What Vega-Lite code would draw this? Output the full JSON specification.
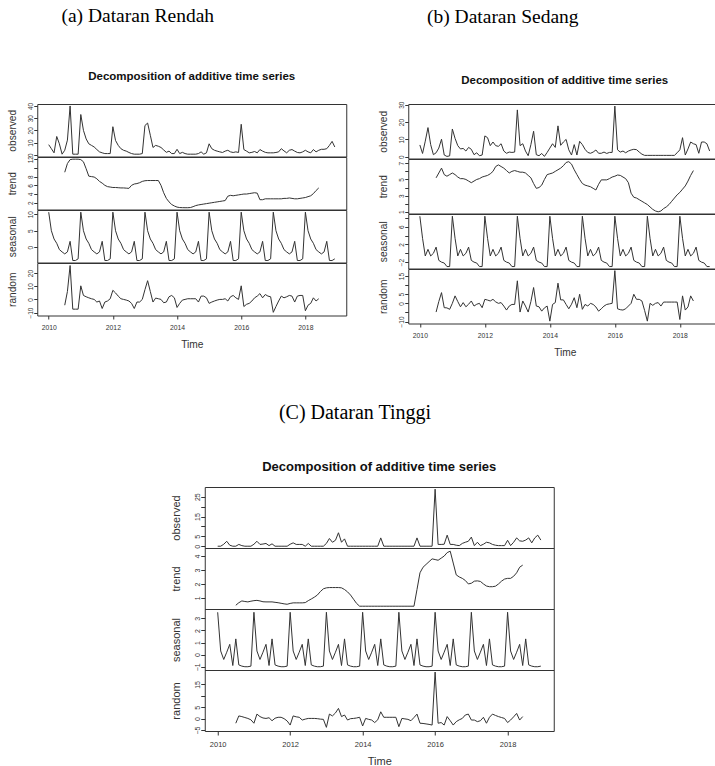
{
"$schema":"https://vega.github.io/schema/vega-lite/v6.json",
"padding":{"left":6,"top":6,"right":5,"bottom":0},
"datasets":{"d":[
{"t":2010,"ao":8.3,"as":10.6,"bo":6.8,"bs":8.4,"co":0,"cs":3.5},
{"t":2010.083,"ao":5,"as":5,"bo":1.9,"bs":3.4,"co":0,"cs":0.3},
{"t":2010.167,"ao":1.6,"as":2.5,"bo":9,"bs":-0.6,"co":1,"cs":-0.4},
{"t":2010.25,"ao":15,"as":1.2,"bo":16.8,"bs":0.9,"co":2.5,"cs":0.2},
{"t":2010.333,"ao":9,"as":-0.7,"bo":7,"bs":-0.6,"co":0.5,"cs":0.85},
{"t":2010.417,"ao":0.5,"as":-1.4,"bo":1.2,"bs":0,"co":0,"cs":-0.9},
{"t":2010.5,"ao":3.7,"as":-2,"bo":2.3,"bs":1.4,"co":0,"cs":1.3,"at":9,"ar":-4.4,"bt":5.2,"br":-4.8,"ct":0.47,"cr":-2},
{"t":2010.583,"ao":12,"as":-1.4,"bo":5,"bs":-1.6,"co":0.9,"cs":-0.85,"at":11,"ar":6,"bt":5.8,"br":1,"ct":0.65,"cr":1.2},
{"t":2010.667,"ao":40,"as":1.8,"bo":10.1,"bs":-2,"co":0.3,"cs":-0.95,"at":11.9,"ar":25.7,"bt":6.4,"br":5.9,"ct":0.78,"cr":0.9},
{"t":2010.75,"ao":0.5,"as":-4,"bo":1,"bs":-2.2,"co":0,"cs":-1,"at":12,"ar":-7.4,"bt":5.6,"br":-2.4,"ct":0.74,"cr":0.5},
{"t":2010.833,"ao":0.5,"as":-4,"bo":0.2,"bs":-3,"co":0,"cs":-1,"at":12,"ar":-7.4,"bt":5.4,"br":-2.5,"ct":0.71,"cr":0.1},
{"t":2010.917,"ao":0.5,"as":-3.5,"bo":0.5,"bs":-3,"co":0,"cs":-0.95,"at":12,"ar":-7.4,"bt":5.6,"br":-3.3,"ct":0.76,"cr":-0.5},
{"t":2011,"ao":33,"as":10.6,"bo":16,"bs":8.4,"co":1,"cs":3.5,"at":11.9,"ar":10.3,"bt":5.8,"br":0,"ct":0.8,"cr":-2},
{"t":2011.083,"ao":20,"as":5,"bo":10.6,"bs":3.4,"co":2.5,"cs":0.3,"at":11.4,"ar":3,"bt":5.6,"br":4.1,"ct":0.82,"cr":2},
{"t":2011.167,"ao":13,"as":2.5,"bo":6.4,"bs":-0.6,"co":0.9,"cs":-0.4,"at":9.8,"ar":2,"bt":5.3,"br":1,"ct":0.78,"cr":0.9},
{"t":2011.25,"ao":9,"as":1.2,"bo":4.5,"bs":0.9,"co":1.1,"cs":0.2,"at":8.1,"ar":1.2,"bt":5.1,"br":-1.9,"ct":0.72,"cr":0.3},
{"t":2011.333,"ao":7.7,"as":-0.7,"bo":4.8,"bs":-0.6,"co":1.4,"cs":0.85,"at":8,"ar":0.5,"bt":5.1,"br":0.4,"ct":0.71,"cr":0.1},
{"t":2011.417,"ao":6.4,"as":-1.4,"bo":3.3,"bs":0,"co":0.3,"cs":-0.9,"at":7.9,"ar":0,"bt":5,"br":-1.9,"ct":0.71,"cr":0.4},
{"t":2011.5,"ao":4.3,"as":-2,"bo":5.4,"bs":1.4,"co":1.2,"cs":1.3,"at":7.5,"ar":-2,"bt":4.8,"br":-0.5,"ct":0.71,"cr":-0.9},
{"t":2011.583,"ao":2.4,"as":-1.4,"bo":4.3,"bs":-1.6,"co":0,"cs":-0.85,"at":6.9,"ar":-1.2,"bt":4.6,"br":1.3,"ct":0.68,"cr":0.2},
{"t":2011.667,"ao":1.6,"as":1.8,"bo":1.2,"bs":-2,"co":0,"cs":-0.95,"at":6.5,"ar":-6.9,"bt":4.8,"br":-1.5,"ct":0.65,"cr":0.6},
{"t":2011.75,"ao":1,"as":-4,"bo":2.3,"bs":-2.2,"co":0,"cs":-1,"at":6,"ar":-2,"bt":5,"br":-0.5,"ct":0.61,"cr":0.6},
{"t":2011.833,"ao":1,"as":-4,"bo":0.6,"bs":-3,"co":0,"cs":-1,"at":5.7,"ar":-1.2,"bt":5.1,"br":0,"ct":0.57,"cr":0},
{"t":2011.917,"ao":1,"as":-3.5,"bo":1,"bs":-3,"co":0,"cs":-0.95,"at":5.6,"ar":0.5,"bt":5.3,"br":-2.4,"ct":0.54,"cr":-1},
{"t":2012,"ao":23,"as":10.6,"bo":12,"bs":8.4,"co":1,"cs":3.5,"at":5.5,"ar":6.9,"bt":5.4,"br":2.2,"ct":0.6,"cr":-2.8},
{"t":2012.083,"ao":11.7,"as":5,"bo":11,"bs":3.4,"co":1.7,"cs":0.3,"at":5.5,"ar":4.9,"bt":5.5,"br":1.8,"ct":0.64,"cr":1.2},
{"t":2012.167,"ao":7.7,"as":2.5,"bo":6.4,"bs":-0.6,"co":0.9,"cs":-0.4,"at":5.45,"ar":2.5,"bt":5.7,"br":1.3,"ct":0.64,"cr":0.8},
{"t":2012.25,"ao":5,"as":1.2,"bo":8.5,"bs":0.9,"co":0.9,"cs":0.2,"at":5.4,"ar":0.5,"bt":6,"br":2.2,"ct":0.64,"cr":0.6},
{"t":2012.333,"ao":3.7,"as":-0.7,"bo":6.4,"bs":-0.6,"co":0.9,"cs":0.85,"at":5.4,"ar":0,"bt":6.6,"br":0.8,"ct":0.64,"cr":-0.6},
{"t":2012.417,"ao":3,"as":-1.4,"bo":6,"bs":0,"co":0,"cs":-0.9,"at":5.35,"ar":-0.5,"bt":6.8,"br":0,"ct":0.66,"cr":-0.2},
{"t":2012.5,"ao":1.9,"as":-2,"bo":7.5,"bs":1.4,"co":1.4,"cs":1.3,"at":5.3,"ar":-1.2,"bt":6.6,"br":0.4,"ct":0.8,"cr":0.1},
{"t":2012.583,"ao":1,"as":-1.4,"bo":3.3,"bs":-1.6,"co":0,"cs":-0.85,"at":6,"ar":-3,"bt":6.4,"br":-1.5,"ct":0.92,"cr":0.1},
{"t":2012.667,"ao":0.5,"as":1.8,"bo":2,"bs":-2,"co":0,"cs":-0.95,"at":6.3,"ar":-6.9,"bt":6.1,"br":-3.7,"ct":1.05,"cr":0.1},
{"t":2012.75,"ao":0.5,"as":-4,"bo":2.7,"bs":-2.2,"co":0,"cs":-1,"at":6.4,"ar":-2,"bt":5.8,"br":-1.5,"ct":1.2,"cr":0},
{"t":2012.833,"ao":0.5,"as":-4,"bo":2.5,"bs":-3,"co":0,"cs":-1,"at":6.6,"ar":-2,"bt":6,"br":-0.6,"ct":1.45,"cr":-0.2},
{"t":2012.917,"ao":1,"as":-3.5,"bo":2.7,"bs":-3,"co":0,"cs":-0.95,"at":6.9,"ar":0,"bt":6.1,"br":-0.6,"ct":1.65,"cr":-0.3},
{"t":2013,"ao":24,"as":10.6,"bo":27,"bs":8.4,"co":1.4,"cs":3.5,"at":7.05,"ar":7.4,"bt":6,"br":12.4,"ct":1.72,"cr":-3.8},
{"t":2013.083,"ao":26,"as":5,"bo":6.4,"bs":3.4,"co":3.9,"cs":0.3,"at":7.1,"ar":14.2,"bt":5.9,"br":-4.8,"ct":1.74,"cr":2},
{"t":2013.167,"ao":16,"as":2.5,"bo":7.5,"bs":-0.6,"co":2,"cs":-0.4,"at":7.1,"ar":6,"bt":5.9,"br":1.3,"ct":1.74,"cr":1.2},
{"t":2013.25,"ao":6,"as":1.2,"bo":3.3,"bs":0.9,"co":3,"cs":0.2,"at":7.1,"ar":-2,"bt":5.8,"br":-1.5,"ct":1.74,"cr":2.5},
{"t":2013.333,"ao":7.7,"as":-0.7,"bo":0.6,"bs":-0.6,"co":6.8,"cs":0.85,"at":7.1,"ar":1,"bt":5.5,"br":-4.8,"ct":1.74,"cr":4.5},
{"t":2013.417,"ao":7,"as":-1.4,"bo":7,"bs":0,"co":2,"cs":-0.9,"at":7.1,"ar":0.5,"bt":5.2,"br":1,"ct":1.72,"cr":0.9},
{"t":2013.5,"ao":6,"as":-2,"bo":14.7,"bs":1.4,"co":3.7,"cs":1.3,"at":6,"ar":0,"bt":4.5,"br":8.7,"ct":1.6,"cr":1.6},
{"t":2013.583,"ao":4,"as":-1.4,"bo":1.2,"bs":-1.6,"co":0,"cs":-0.85,"at":4.3,"ar":-2.5,"bt":3.9,"br":-1.5,"ct":1.43,"cr":-0.6},
{"t":2013.667,"ao":2,"as":1.8,"bo":0.6,"bs":-2,"co":0,"cs":-0.95,"at":3,"ar":-2,"bt":4,"br":-1.9,"ct":1.2,"cr":0},
{"t":2013.75,"ao":3,"as":-4,"bo":1.9,"bs":-2.2,"co":0,"cs":-1,"at":2.2,"ar":2,"bt":4.3,"br":-4.3,"ct":0.9,"cr":0.1},
{"t":2013.833,"ao":1,"as":-4,"bo":0.2,"bs":-3,"co":0,"cs":-1,"at":1.6,"ar":3,"bt":5,"br":-2.5,"ct":0.6,"cr":0.3},
{"t":2013.917,"ao":1,"as":-3.5,"bo":2.5,"bs":-3,"co":0,"cs":-0.95,"at":1.25,"ar":1.2,"bt":5.6,"br":-1.5,"ct":0.4,"cr":0.6},
{"t":2014,"ao":4.5,"as":10.6,"bo":5,"bs":8.4,"co":0,"cs":3.5,"at":1,"ar":-6.1,"bt":5.7,"br":-9.8,"ct":0.4,"cr":-3.2},
{"t":2014.083,"ao":1,"as":5,"bo":7.5,"bs":3.4,"co":0,"cs":0.3,"at":0.9,"ar":-3,"bt":5.8,"br":-0.6,"ct":0.4,"cr":0.1},
{"t":2014.167,"ao":2,"as":2.5,"bo":5.4,"bs":-0.6,"co":0,"cs":-0.4,"at":0.87,"ar":-0.5,"bt":6,"br":0.4,"ct":0.4,"cr":-0.3},
{"t":2014.25,"ao":1,"as":1.2,"bo":17.8,"bs":0.9,"co":0,"cs":0.2,"at":0.86,"ar":0,"bt":6.2,"br":11.1,"ct":0.4,"cr":-0.6},
{"t":2014.333,"ao":0.5,"as":-0.7,"bo":6.6,"bs":-0.6,"co":0,"cs":0.85,"at":0.86,"ar":0.5,"bt":6.4,"br":1.9,"ct":0.4,"cr":-1.7},
{"t":2014.417,"ao":0.5,"as":-1.4,"bo":8.5,"bs":0,"co":0,"cs":-0.9,"at":0.9,"ar":0.5,"bt":6.7,"br":1.9,"ct":0.4,"cr":-0.5},
{"t":2014.5,"ao":0.5,"as":-2,"bo":10,"bs":1.4,"co":4.2,"cs":1.3,"at":1.1,"ar":0.5,"bt":7.1,"br":-0.6,"ct":0.4,"cr":3},
{"t":2014.583,"ao":0.5,"as":-1.4,"bo":4,"bs":-1.6,"co":0,"cs":-0.85,"at":1.35,"ar":0.5,"bt":7.2,"br":-3,"ct":0.4,"cr":0.6},
{"t":2014.667,"ao":1,"as":1.8,"bo":1,"bs":-2,"co":0,"cs":-0.95,"at":1.5,"ar":-2,"bt":6.9,"br":-0.5,"ct":0.4,"cr":0.6},
{"t":2014.75,"ao":2.4,"as":-4,"bo":7,"bs":-2.2,"co":0,"cs":-1,"at":1.6,"ar":2.5,"bt":6.2,"br":3.1,"ct":0.4,"cr":0.6},
{"t":2014.833,"ao":0.5,"as":-4,"bo":1,"bs":-3,"co":0,"cs":-1,"at":1.7,"ar":2.5,"bt":5.6,"br":-2.4,"ct":0.4,"cr":0.6},
{"t":2014.917,"ao":1.6,"as":-3.5,"bo":8.9,"bs":-3,"co":0,"cs":-0.95,"at":1.8,"ar":1.2,"bt":5,"br":5,"ct":0.4,"cr":0.6},
{"t":2015,"ao":9,"as":10.6,"bo":7,"bs":8.4,"co":0,"cs":3.5,"at":1.9,"ar":-3,"bt":4.5,"br":-3.3,"ct":0.4,"cr":-3.5},
{"t":2015.083,"ao":5,"as":5,"bo":4.3,"bs":3.4,"co":0,"cs":0.3,"at":2,"ar":-2,"bt":4.3,"br":-0.6,"ct":0.4,"cr":0.1},
{"t":2015.167,"ao":3.7,"as":2.5,"bo":2.5,"bs":-0.6,"co":0,"cs":-0.4,"at":2.1,"ar":-1.2,"bt":4.2,"br":-1.5,"ct":0.4,"cr":-0.1},
{"t":2015.25,"ao":3,"as":1.2,"bo":2,"bs":0.9,"co":0,"cs":0.2,"at":2.2,"ar":-0.5,"bt":4.1,"br":0,"ct":0.4,"cr":-0.3},
{"t":2015.333,"ao":2.4,"as":-0.7,"bo":2.7,"bs":-0.6,"co":0,"cs":0.85,"at":2.3,"ar":0,"bt":3.9,"br":-0.6,"ct":0.4,"cr":-0.9},
{"t":2015.417,"ao":1.9,"as":-1.4,"bo":3.9,"bs":0,"co":0,"cs":-0.9,"at":2.4,"ar":0,"bt":3.7,"br":-2,"ct":0.4,"cr":0.5},
{"t":2015.5,"ao":3,"as":-2,"bo":2,"bs":1.4,"co":4.2,"cs":1.3,"at":2.5,"ar":0.5,"bt":4.4,"br":-4.3,"ct":1.6,"cr":2},
{"t":2015.583,"ao":3.7,"as":-1.4,"bo":2,"bs":-1.6,"co":0,"cs":-0.85,"at":3.5,"ar":-1.2,"bt":4.95,"br":-3,"ct":2.8,"cr":-2},
{"t":2015.667,"ao":2.4,"as":1.8,"bo":2.7,"bs":-2,"co":0,"cs":-0.95,"at":3.7,"ar":2,"bt":4.95,"br":-1.5,"ct":3.2,"cr":-2.1},
{"t":2015.75,"ao":1.9,"as":-4,"bo":1.9,"bs":-2.2,"co":0,"cs":-1,"at":3.6,"ar":3,"bt":4.95,"br":-0.6,"ct":3.4,"cr":-2.3},
{"t":2015.833,"ao":2.4,"as":-4,"bo":2.5,"bs":-3,"co":0,"cs":-1,"at":3.7,"ar":1.2,"bt":5.1,"br":-0.3,"ct":3.6,"cr":-2.5},
{"t":2015.917,"ao":1.9,"as":-3.5,"bo":2.5,"bs":-3,"co":0,"cs":-0.95,"at":3.8,"ar":0,"bt":5.3,"br":0,"ct":3.8,"cr":-2.8},
{"t":2016,"ao":25,"as":10.6,"bo":29.2,"bs":8.4,"co":28.8,"cs":3.5,"at":3.9,"ar":10.3,"bt":5.4,"br":18,"ct":3.75,"cr":20.4},
{"t":2016.083,"ao":4.3,"as":5,"bo":4,"bs":3.4,"co":0.9,"cs":0.3,"at":4,"ar":-5.4,"bt":5.55,"br":-3,"ct":3.7,"cr":-2},
{"t":2016.167,"ao":3,"as":2.5,"bo":2.7,"bs":-0.6,"co":0.9,"cs":-0.4,"at":4,"ar":-3.7,"bt":5.5,"br":-3.5,"ct":3.85,"cr":-1.7},
{"t":2016.25,"ao":1.6,"as":1.2,"bo":3.3,"bs":0.9,"co":1,"cs":0.2,"at":4.1,"ar":-3,"bt":5.3,"br":-3.7,"ct":4,"cr":-2.8},
{"t":2016.333,"ao":2,"as":-0.7,"bo":2.3,"bs":-0.6,"co":5.6,"cs":0.85,"at":4.2,"ar":-1.2,"bt":5.1,"br":-3,"ct":4.25,"cr":0.9},
{"t":2016.417,"ao":2.7,"as":-1.4,"bo":3.3,"bs":0,"co":0.9,"cs":-0.9,"at":4.3,"ar":1.2,"bt":4.6,"br":-1.5,"ct":4.35,"cr":-0.9},
{"t":2016.5,"ao":1.6,"as":-2,"bo":3.9,"bs":1.4,"co":0.9,"cs":1.3,"at":4.2,"ar":2.5,"bt":3.3,"br":0,"ct":3.5,"cr":-2.8},
{"t":2016.583,"ao":4.3,"as":-1.4,"bo":4.3,"bs":-1.6,"co":0.5,"cs":-0.85,"at":2.7,"ar":4.4,"bt":2.8,"br":5,"ct":2.65,"cr":-1.3},
{"t":2016.667,"ao":3,"as":1.8,"bo":4.1,"bs":-2,"co":0.3,"cs":-0.95,"at":2.7,"ar":1.2,"bt":2.7,"br":2.2,"ct":2.5,"cr":-0.5},
{"t":2016.75,"ao":2,"as":-4,"bo":2.7,"bs":-2.2,"co":1.4,"cs":-1,"at":2.9,"ar":3.7,"bt":2.5,"br":2.2,"ct":2.4,"cr":0.1},
{"t":2016.833,"ao":1.6,"as":-4,"bo":1.5,"bs":-3,"co":2,"cs":-1,"at":2.9,"ar":2.5,"bt":2.3,"br":1.3,"ct":2.25,"cr":1.6},
{"t":2016.917,"ao":1.6,"as":-3.5,"bo":0.8,"bs":-3,"co":2.5,"cs":-0.95,"at":2.9,"ar":2,"bt":2.1,"br":-4,"ct":2,"cr":2},
{"t":2017,"ao":1.6,"as":10.6,"bo":0.8,"bs":8.4,"co":4.6,"cs":3.5,"at":2.9,"ar":-9.8,"bt":1.9,"br":-9.8,"ct":2.05,"cr":-0.6},
{"t":2017.083,"ao":1.9,"as":5,"bo":0.8,"bs":3.4,"co":0.3,"cs":0.3,"at":2.9,"ar":-5.4,"bt":1.6,"br":0,"ct":2.2,"cr":-0.6},
{"t":2017.167,"ao":2.4,"as":2.5,"bo":0.8,"bs":-0.6,"co":2,"cs":-0.4,"at":2.9,"ar":-1.2,"bt":1.3,"br":-1.1,"ct":2.22,"cr":-1.3},
{"t":2017.25,"ao":5,"as":1.2,"bo":0.8,"bs":0.9,"co":0.3,"cs":0.2,"at":2.9,"ar":2.5,"bt":1.1,"br":0,"ct":2.18,"cr":-0.9},
{"t":2017.333,"ao":3.2,"as":-0.7,"bo":0.8,"bs":-0.6,"co":1,"cs":0.85,"at":3,"ar":1.2,"bt":1,"br":0.4,"ct":2,"cr":0.6},
{"t":2017.417,"ao":1.6,"as":-1.4,"bo":0.8,"bs":0,"co":2,"cs":-0.9,"at":3,"ar":2,"bt":1.1,"br":-1.5,"ct":1.85,"cr":-2},
{"t":2017.5,"ao":3.7,"as":-2,"bo":0.8,"bs":1.4,"co":1.7,"cs":1.3,"at":3.1,"ar":3,"bt":1.4,"br":0.7,"ct":1.8,"cr":0.6},
{"t":2017.583,"ao":4.3,"as":-1.4,"bo":0.8,"bs":-1.6,"co":0.9,"cs":-0.85,"at":3,"ar":2.5,"bt":1.6,"br":0.7,"ct":1.8,"cr":2},
{"t":2017.667,"ao":3,"as":1.8,"bo":0.8,"bs":-2,"co":0.5,"cs":-0.95,"at":2.9,"ar":-2,"bt":1.9,"br":0.7,"ct":1.84,"cr":1.4},
{"t":2017.75,"ao":1.9,"as":-4,"bo":0.8,"bs":-2.2,"co":0.3,"cs":-1,"at":2.9,"ar":2.5,"bt":2.3,"br":0.7,"ct":2,"cr":0.9},
{"t":2017.833,"ao":1.6,"as":-4,"bo":0.8,"bs":-3,"co":0.3,"cs":-1,"at":3,"ar":3,"bt":2.7,"br":0.7,"ct":2.2,"cr":0.5},
{"t":2017.917,"ao":2.4,"as":-3.5,"bo":2.3,"bs":-3,"co":0.3,"cs":-0.95,"at":3.1,"ar":3,"bt":3.1,"br":0.7,"ct":2.35,"cr":0.1},
{"t":2018,"ao":3.7,"as":10.6,"bo":4,"bs":8.4,"co":3,"cs":3.5,"at":3.2,"ar":-8.6,"bt":3.4,"br":-8.9,"ct":2.4,"cr":-1.7},
{"t":2018.083,"ao":2.4,"as":5,"bo":11,"bs":3.4,"co":0.3,"cs":0.3,"at":3.4,"ar":-4.4,"bt":3.8,"br":4.1,"ct":2.4,"cr":-0.6},
{"t":2018.167,"ao":1.6,"as":2.5,"bo":1,"bs":-0.6,"co":2,"cs":-0.4,"at":3.6,"ar":-3,"bt":4.2,"br":-3.7,"ct":2.55,"cr":0.8},
{"t":2018.25,"ao":4.3,"as":1.2,"bo":4.5,"bs":0.9,"co":4.2,"cs":0.2,"at":4.1,"ar":1.2,"bt":4.8,"br":-2,"ct":2.8,"cr":2.3},
{"t":2018.333,"ao":2.4,"as":-0.7,"bo":8.5,"bs":-0.6,"co":2.7,"cs":0.85,"at":4.8,"ar":-1.2,"bt":5.5,"br":4.1,"ct":3.2,"cr":-0.6},
{"t":2018.417,"ao":3.7,"as":-1.4,"bo":7.5,"bs":0,"co":2.5,"cs":-0.9,"at":5.4,"ar":0.5,"bt":6.1,"br":1.3,"ct":3.35,"cr":0.9},
{"t":2018.5,"ao":4.5,"as":-2,"bo":7,"bs":1.4,"co":3.1,"cs":1.3},
{"t":2018.583,"ao":4.5,"as":-1.4,"bo":2,"bs":-1.6,"co":4.2,"cs":-0.85},
{"t":2018.667,"ao":5,"as":1.8,"bo":8.5,"bs":-2,"co":1.7,"cs":-0.95},
{"t":2018.75,"ao":7.7,"as":-4,"bo":8.5,"bs":-2.2,"co":4.2,"cs":-1},
{"t":2018.833,"ao":11,"as":-4,"bo":7.5,"bs":-3,"co":5.6,"cs":-1},
{"t":2018.917,"ao":6.4,"as":-3.5,"bo":3.3,"bs":-3,"co":3.1,"cs":-0.95}
]},
"data":{"name":"d"},
"spacing":44,
"center":true,
"resolve":{"scale":{"x":"independent","y":"independent"}},
"vconcat":[
{"spacing":30,"resolve":{"scale":{"x":"independent","y":"independent"}},
 "hconcat":[
 {"title":{"text":"(a) Dataran Rendah","anchor":"middle","frame":"bounds","font":"Liberation Serif","fontSize":19.5,"fontWeight":"normal","color":"#000","dx":-39,"offset":44},
  "spacing":0,"bounds":"flush","resolve":{"scale":{"x":"independent","y":"independent"}},
  "vconcat":[
  {"width":309,"height":52.5,"title":{"text":"Decomposition of additive time series","anchor":"middle","frame":"group","font":"Liberation Sans","fontSize":11.5,"fontWeight":"bold","color":"#111","offset":19.5},
   "mark":{"type":"line"},
   "encoding":{"x":{"field":"t","type":"quantitative","scale":{"domain":[2009.643,2019.274],"nice":false,"zero":false},"axis":null},
    "y":{"field":"ao","type":"quantitative","scale":{"domain":[-1.4,41.6],"nice":false,"zero":false},"axis":{"title":"observed","values":[0,10,20,30,40]}}}},
  {"width":309,"height":52.5,"mark":{"type":"line"},
   "encoding":{"x":{"field":"t","type":"quantitative","scale":{"domain":[2009.643,2019.274],"nice":false,"zero":false},"axis":null},
    "y":{"field":"at","type":"quantitative","scale":{"domain":[0.45,12.5],"nice":false,"zero":false},"axis":{"title":"trend","values":[2,4,6,8,10,12],"labelExpr":"datum.value == 10 ? '' : datum.label"}}}},
  {"width":309,"height":52.5,"mark":{"type":"line"},
   "encoding":{"x":{"field":"t","type":"quantitative","scale":{"domain":[2009.643,2019.274],"nice":false,"zero":false},"axis":null},
    "y":{"field":"as","type":"quantitative","scale":{"domain":[-4.6,11.26],"nice":false,"zero":false},"axis":{"title":"seasonal","values":[0,5,10]}}}},
  {"width":309,"height":52.5,"mark":{"type":"line"},
   "encoding":{"x":{"field":"t","type":"quantitative","scale":{"domain":[2009.643,2019.274],"nice":false,"zero":false},"axis":{"title":"Time","values":[2010,2012,2014,2016,2018],"format":"d"}},
    "y":{"field":"ar","type":"quantitative","scale":{"domain":[-12.2,27.6],"nice":false,"zero":false},"axis":{"title":"random","values":[-10,0,10,20]}}}}
  ]},
 {"title":{"text":"(b) Dataran Sedang","anchor":"middle","frame":"bounds","font":"Liberation Serif","fontSize":19.5,"fontWeight":"normal","color":"#000","dx":-47,"offset":47},
  "spacing":0,"bounds":"flush","resolve":{"scale":{"x":"independent","y":"independent"}},
  "vconcat":[
  {"width":313,"height":54.5,"title":{"text":"Decomposition of additive time series","anchor":"middle","frame":"group","font":"Liberation Sans","fontSize":11.5,"fontWeight":"bold","color":"#111","offset":15},
   "mark":{"type":"line"},
   "encoding":{"x":{"field":"t","type":"quantitative","scale":{"domain":[2009.643,2019.274],"nice":false,"zero":false},"axis":null},
    "y":{"field":"bo","type":"quantitative","scale":{"domain":[-1.0,30.4],"nice":false,"zero":false},"axis":{"title":"observed","values":[0,10,20,30]}}}},
  {"width":313,"height":54.5,"mark":{"type":"line"},
   "encoding":{"x":{"field":"t","type":"quantitative","scale":{"domain":[2009.643,2019.274],"nice":false,"zero":false},"axis":null},
    "y":{"field":"bt","type":"quantitative","scale":{"domain":[0.79,7.53],"nice":false,"zero":false},"axis":{"title":"trend","values":[1,2,3,4,5,6,7],"labelExpr":"datum.value % 2 == 0 ? '' : datum.label"}}}},
  {"width":313,"height":54.5,"mark":{"type":"line"},
   "encoding":{"x":{"field":"t","type":"quantitative","scale":{"domain":[2009.643,2019.274],"nice":false,"zero":false},"axis":null},
    "y":{"field":"bs","type":"quantitative","scale":{"domain":[-3.44,8.9],"nice":false,"zero":false},"axis":{"title":"seasonal","values":[-2,0,2,4,6,8],"labelExpr":"(datum.value + 2) % 4 == 0 ? datum.label : ''"}}}},
  {"width":313,"height":54.5,"mark":{"type":"line"},
   "encoding":{"x":{"field":"t","type":"quantitative","scale":{"domain":[2009.643,2019.274],"nice":false,"zero":false},"axis":{"title":"Time","values":[2010,2012,2014,2016,2018],"format":"d"}},
    "y":{"field":"br","type":"quantitative","scale":{"domain":[-11.1,18.9],"nice":false,"zero":false},"axis":{"title":"random","values":[-10,-5,0,5,10,15],"labelExpr":"datum.value == 10 || datum.value == -5 ? '' : datum.label"}}}}
  ]}
 ]},
{"title":{"text":"(C) Dataran Tinggi","anchor":"middle","frame":"bounds","font":"Liberation Serif","fontSize":20,"fontWeight":"normal","color":"#000","dx":-7,"offset":37},
 "spacing":0,"bounds":"flush","resolve":{"scale":{"x":"independent","y":"independent"}},
 "vconcat":[
 {"width":349,"height":61,"title":{"text":"Decomposition of additive time series","anchor":"middle","frame":"group","font":"Liberation Sans","fontSize":13,"fontWeight":"bold","color":"#111","offset":13.5},
  "mark":{"type":"line"},
  "encoding":{"x":{"field":"t","type":"quantitative","scale":{"domain":[2009.643,2019.274],"nice":false,"zero":false},"axis":null},
   "y":{"field":"co","type":"quantitative","scale":{"domain":[-0.9,29.9],"nice":false,"zero":false},"axis":{"title":"observed","values":[0,5,10,15,20,25],"labelExpr":"datum.value == 10 || datum.value == 20 ? '' : datum.label","labelFontSize":7,"titleFontSize":11,"tickSize":4,"titlePadding":12}}}},
 {"width":349,"height":61,"mark":{"type":"line"},
  "encoding":{"x":{"field":"t","type":"quantitative","scale":{"domain":[2009.643,2019.274],"nice":false,"zero":false},"axis":null},
   "y":{"field":"ct","type":"quantitative","scale":{"domain":[0.2,4.58],"nice":false,"zero":false},"axis":{"title":"trend","values":[1,2,3,4],"labelFontSize":7,"titleFontSize":11,"tickSize":4,"titlePadding":12}}}},
 {"width":349,"height":61,"mark":{"type":"line"},
  "encoding":{"x":{"field":"t","type":"quantitative","scale":{"domain":[2009.643,2019.274],"nice":false,"zero":false},"axis":null},
   "y":{"field":"cs","type":"quantitative","scale":{"domain":[-1.27,3.77],"nice":false,"zero":false},"axis":{"title":"seasonal","values":[-1,0,1,2,3],"labelFontSize":7,"titleFontSize":11,"tickSize":4,"titlePadding":12}}}},
 {"width":349,"height":61,"mark":{"type":"line"},
  "encoding":{"x":{"field":"t","type":"quantitative","scale":{"domain":[2009.643,2019.274],"nice":false,"zero":false},"axis":{"title":"Time","values":[2010,2012,2014,2016,2018],"format":"d","labelFontSize":7.5,"titleFontSize":11,"tickSize":4,"labelPadding":5,"titlePadding":8}},
   "y":{"field":"cr","type":"quantitative","scale":{"domain":[-5.4,21.3],"nice":false,"zero":false},"axis":{"title":"random","values":[-5,0,5,10,15],"labelExpr":"datum.value == 10 ? '' : datum.label","labelFontSize":7,"titleFontSize":11,"tickSize":4,"titlePadding":12}}}}
 ]}
],
"config":{
 "view":{"stroke":"#333","strokeWidth":1},
 "line":{"color":"#333","strokeWidth":1},
 "axis":{"grid":false,"domain":false,"labelFont":"Liberation Sans","labelFontSize":6.5,"labelColor":"#333","tickColor":"#333","tickSize":3.5,"titleFont":"Liberation Sans","titleFontSize":10.2,"titleFontWeight":"normal","titleColor":"#333","labelFlush":false,"labelOverlap":false,"labelBound":false},
 "axisY":{"labelAngle":270,"labelAlign":"center","labelBaseline":"bottom","labelPadding":0.5,"titlePadding":10},
 "axisX":{"labelFontSize":6.8,"labelPadding":5,"titlePadding":9}
}
}
